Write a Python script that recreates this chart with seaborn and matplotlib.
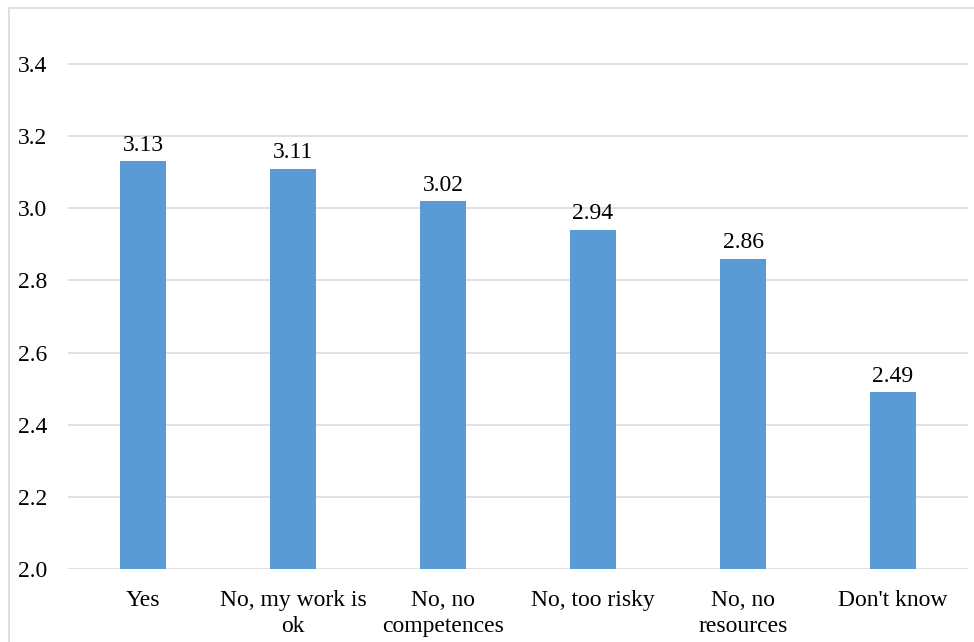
import matplotlib
matplotlib.use("Agg")
import matplotlib.pyplot as plt
import seaborn as sns
import pandas as pd
from matplotlib.patches import Rectangle

categories = ["Yes", "No, my work is\nok", "No, no\ncompetences", "No, too risky",
              "No, no\nresources", "Don't know"]
values = [3.13, 3.11, 3.02, 2.94, 2.86, 2.49]
y_ticks = [2.0, 2.2, 2.4, 2.6, 2.8, 3.0, 3.2, 3.4]

sns.set_theme(style="white")
plt.rcParams["font.family"] = ["Liberation Serif", "DejaVu Serif"]

W, H = 974, 642
fig = plt.figure(figsize=(W / 100, H / 100), dpi=100)
fig.patch.set_facecolor("white")

# outer chart frame
fig.patches.append(Rectangle((9 / W, -0.1), 1.2, 1 - 8 / H + 0.1,
                             transform=fig.transFigure, fill=False,
                             edgecolor="#d9d9d9", linewidth=1.2, zorder=0))

ax = fig.add_axes([68 / W, 1 - 569 / H, 900 / W, (569 - 28) / H])
df = pd.DataFrame({"category": categories, "value": values})
sns.barplot(data=df, x="category", y="value", color="#5B9BD5", saturation=1,
            width=0.313, linewidth=0, ax=ax, zorder=3)

ax.set_ylim(2.0, 3.5)
ax.set_xlim(-0.5, len(categories) - 0.5)
ax.set_yticks(y_ticks)
ax.set_yticklabels([f"{t:.1f}" for t in y_ticks])
ax.yaxis.grid(True, color="#d9d9d9", linewidth=1.1, zorder=0)
ax.set_axisbelow(True)
for s in ax.spines.values():
    s.set_visible(False)
ax.set_xlabel("")
ax.set_ylabel("")
ax.tick_params(axis="y", length=0, pad=15, labelsize=17, labelcolor="black")
ax.tick_params(axis="x", length=0, pad=15, labelsize=17, labelcolor="black")
for lbl in ax.get_xticklabels():
    lbl.set_linespacing(1.33)
ax.set_facecolor("none")

ax.bar_label(ax.containers[0], fmt="%.2f", padding=4, fontsize=17, color="black")

fig.savefig("out.png", dpi=100, facecolor="white")
